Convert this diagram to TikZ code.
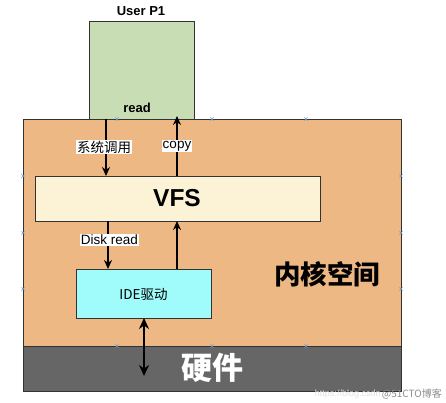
\documentclass[tikz,border=0pt]{standalone}
\usepackage{fontspec}
\setmainfont{Liberation Sans}
\newfontfamily\cjk{Noto Sans CJK SC}
\usetikzlibrary{arrows.meta}
\definecolor{usergreen}{HTML}{C9DDB5}
\definecolor{kernelorange}{HTML}{EDB884}
\definecolor{vfsyellow}{HTML}{FCF3D7}
\definecolor{idecyan}{HTML}{A0FBFB}
\definecolor{hwgray}{HTML}{666666}
\definecolor{edgegray}{HTML}{333333}
\definecolor{handleblue}{HTML}{6C9BD2}
\tikzset{
  boxstyle/.style={draw=edgegray, line width=0.9pt, inner sep=0pt, outer sep=0pt, anchor=north west},
  flow/.style={line width=1.5pt, -{Stealth[length=9pt,width=8pt]}},
  bothflow/.style={line width=2.5pt, {Stealth[length=11pt,width=10pt]}-{Stealth[length=11pt,width=10pt]}},
  lbl/.style={fill=white, inner sep=1.2pt, font=\fontsize{13.5}{15}\selectfont},
  handle/.style={handleblue, line width=0.5pt}
}
\begin{document}
\begin{tikzpicture}[x=1pt,y=-1pt]
\useasboundingbox (0,0) rectangle (446,403);
% boxes
\node[boxstyle, fill=usergreen, minimum width=105pt, minimum height=98pt] (user) at (89,21) {};
\node[boxstyle, fill=kernelorange, minimum width=378pt, minimum height=227pt] (kernel) at (23,119) {};
\node[boxstyle, fill=hwgray, minimum width=378pt, minimum height=45pt] (hw) at (23,346) {};
\node[boxstyle, fill=vfsyellow, minimum width=285pt, minimum height=45pt] (vfs) at (35,176) {};
\node[boxstyle, fill=idecyan, minimum width=135pt, minimum height=49pt] (ide) at (76,269) {};
% texts
\node[font=\bfseries\fontsize{13}{15}\selectfont] (usertitle) at (141,11) {User P1};
\node[font=\bfseries\fontsize{13}{15}\selectfont] (readlbl) at (137,108) {read};
\node[font=\bfseries\fontsize{24.5}{28}\selectfont] (vfstext) at (177,198.5) {VFS};
\node[font=\cjk\fontsize{13.5}{15}\selectfont] (idetext) at (143.5,294) {IDE驱动};
\node[font=\cjk\bfseries\fontsize{26.5}{30}\selectfont] (kerneltext) at (327,274) {内核空间};
\node[font=\cjk\bfseries\fontsize{31}{34}\selectfont, text=white] (hwtext) at (212,368) {硬件};
% connector end points
\coordinate (a1s) at (106,119);
\coordinate (a1e) at (106,176);
\coordinate (a2s) at (177,176);
\coordinate (a2e) at (177,116);
\coordinate (a3s) at (108,221);
\coordinate (a3e) at (108,269);
\coordinate (a4s) at (177,269);
\coordinate (a4e) at (177,221);
\coordinate (a5s) at (144,318);
\coordinate (a5e) at (144,376);
% connectors
\draw[flow] (a1s) -- (a1e);
\draw[flow] (a2s) -- (a2e);
\draw[flow] (a3s) -- (a3e);
\draw[flow] (a4s) -- (a4e);
\draw[bothflow] (a5s) -- (a5e);
% connector labels
\node[lbl, font=\cjk\fontsize{13.5}{15}\selectfont] (syscall) at (104,147) {系统调用};
\node[lbl] (copylbl) at (177,146) {copy};
\node[lbl] (disklbl) at (109.5,240) {Disk read};
% selection handles
\foreach \p in {(117,119),(212,119),(306,119),(23,176),(23,233),(23,289),(401,176),(401,233),(401,289),(117,346),(212,346),(306,346)}{
  \draw[handle] \p ++(-1.6,-1.6) -- ++(3.2,3.2) \p ++(-1.6,1.6) -- ++(3.2,-3.2);
}
% watermark
\node[text=black!45, font=\cjk\fontsize{10}{11}\selectfont, anchor=east, inner sep=0pt] (wm2) at (442,394) {@51CTO博客};
\node[text=black!12, font=\fontsize{9}{10}\selectfont, anchor=east, inner sep=0pt] (wm1) at ([xshift=-1pt]wm2.west) {https://blog.csdn};
\end{tikzpicture}
\end{document}
